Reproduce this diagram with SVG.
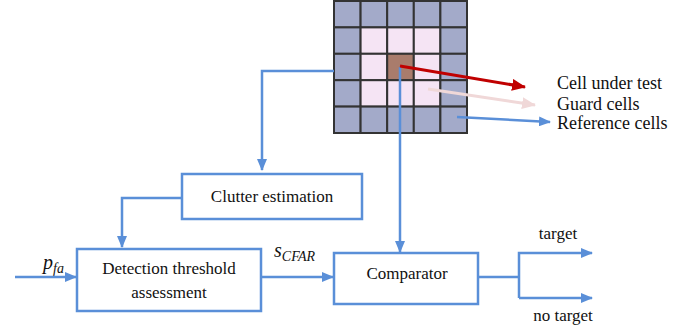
<svg xmlns="http://www.w3.org/2000/svg" width="700" height="332" viewBox="0 0 700 332">
<style>
.ln{fill:none;stroke:#5a8fd8;stroke-width:2.5}
.box{fill:#fff;stroke:#5a8fd8;stroke-width:2.5}
.o{fill:#a3aac9;stroke:#333;stroke-width:2}
.g{fill:#f5e4f4;stroke:#333;stroke-width:2}
.c{fill:#a97c6c;stroke:#333;stroke-width:2}
</style>
<defs>
<marker id="ab" markerWidth="12" markerHeight="10" refX="11" refY="5" orient="auto" markerUnits="userSpaceOnUse"><path d="M0,0 L12,5 L0,10 z" fill="#5a8fd8"/></marker>
<marker id="ar" markerWidth="14" markerHeight="12" refX="13" refY="6" orient="auto" markerUnits="userSpaceOnUse"><path d="M0,0 L14,6 L0,12 z" fill="#c00000"/></marker>
<marker id="ap" markerWidth="14" markerHeight="12" refX="13" refY="6" orient="auto" markerUnits="userSpaceOnUse"><path d="M0,0 L14,6 L0,12 z" fill="#f0d8d8"/></marker>
</defs>
<g id="grid">
<rect class="o" x="334" y="1" width="26.6" height="26.4"/><rect class="o" x="360.6" y="1" width="26.6" height="26.4"/><rect class="o" x="387.2" y="1" width="26.6" height="26.4"/><rect class="o" x="413.8" y="1" width="26.6" height="26.4"/><rect class="o" x="440.4" y="1" width="26.6" height="26.4"/>
<rect class="o" x="334" y="27.4" width="26.6" height="26.4"/><rect class="g" x="360.6" y="27.4" width="26.6" height="26.4"/><rect class="g" x="387.2" y="27.4" width="26.6" height="26.4"/><rect class="g" x="413.8" y="27.4" width="26.6" height="26.4"/><rect class="o" x="440.4" y="27.4" width="26.6" height="26.4"/>
<rect class="o" x="334" y="53.8" width="26.6" height="26.4"/><rect class="g" x="360.6" y="53.8" width="26.6" height="26.4"/><rect class="c" x="387.2" y="53.8" width="26.6" height="26.4"/><rect class="g" x="413.8" y="53.8" width="26.6" height="26.4"/><rect class="o" x="440.4" y="53.8" width="26.6" height="26.4"/>
<rect class="o" x="334" y="80.2" width="26.6" height="26.4"/><rect class="g" x="360.6" y="80.2" width="26.6" height="26.4"/><rect class="g" x="387.2" y="80.2" width="26.6" height="26.4"/><rect class="g" x="413.8" y="80.2" width="26.6" height="26.4"/><rect class="o" x="440.4" y="80.2" width="26.6" height="26.4"/>
<rect class="o" x="334" y="106.6" width="26.6" height="26.4"/><rect class="o" x="360.6" y="106.6" width="26.6" height="26.4"/><rect class="o" x="387.2" y="106.6" width="26.6" height="26.4"/><rect class="o" x="413.8" y="106.6" width="26.6" height="26.4"/><rect class="o" x="440.4" y="106.6" width="26.6" height="26.4"/>
</g>
<g font-family="Times New Roman, Liberation Serif, DejaVu Serif, serif" fill="#111">
<g id="clutter"><rect class="box" x="182" y="174" width="180" height="45"/><text x="272" y="202" font-size="17" text-anchor="middle">Clutter estimation</text></g>
<g id="detection"><rect class="box" x="77" y="249" width="184" height="62"/><text x="169" y="274" font-size="17" text-anchor="middle">Detection threshold</text><text x="169" y="298" font-size="17" text-anchor="middle">assessment</text></g>
<g id="comparator"><rect class="box" x="334" y="253" width="144" height="51"/><text x="407" y="279" font-size="17" text-anchor="middle">Comparator</text></g>
<g id="labels">
<text x="557" y="89" font-size="18">Cell under test</text>
<text x="557" y="110" font-size="18">Guard cells</text>
<text x="557" y="129" font-size="18">Reference cells</text>
<text x="43" y="269" font-size="20" font-style="italic">p<tspan font-size="14" dy="4">fa</tspan></text>
<text x="274" y="257" font-size="20" font-style="italic">s<tspan font-size="14" dy="4">CFAR</tspan></text>
<text x="558" y="239" font-size="17" text-anchor="middle">target</text>
<text x="563" y="321" font-size="17" text-anchor="middle">no target</text>
</g>
</g>
<g id="connectors">
<path class="ln" d="M334,71 H262 V170" marker-end="url(#ab)"/>
<path class="ln" d="M182,198 H122 V247" marker-end="url(#ab)"/>
<path class="ln" d="M15,277 H76" marker-end="url(#ab)"/>
<path class="ln" d="M261,277 H333" marker-end="url(#ab)"/>
<path class="ln" d="M400,67 V252" marker-end="url(#ab)"/>
<path class="ln" d="M478,277 H519"/>
<path class="ln" d="M519,298 V253 H592" marker-end="url(#ab)"/>
<path class="ln" d="M519,298 H592" marker-end="url(#ab)"/>
<path d="M400,66 L525,87" stroke="#c00000" stroke-width="3" fill="none" marker-end="url(#ar)"/>
<path d="M428,89 L535,105" stroke="#f0d8d8" stroke-width="3" fill="none" marker-end="url(#ap)"/>
<path d="M457,117 L550,122" stroke="#5a8fd8" stroke-width="2.5" fill="none" marker-end="url(#ab)"/>
</g>
</svg>
